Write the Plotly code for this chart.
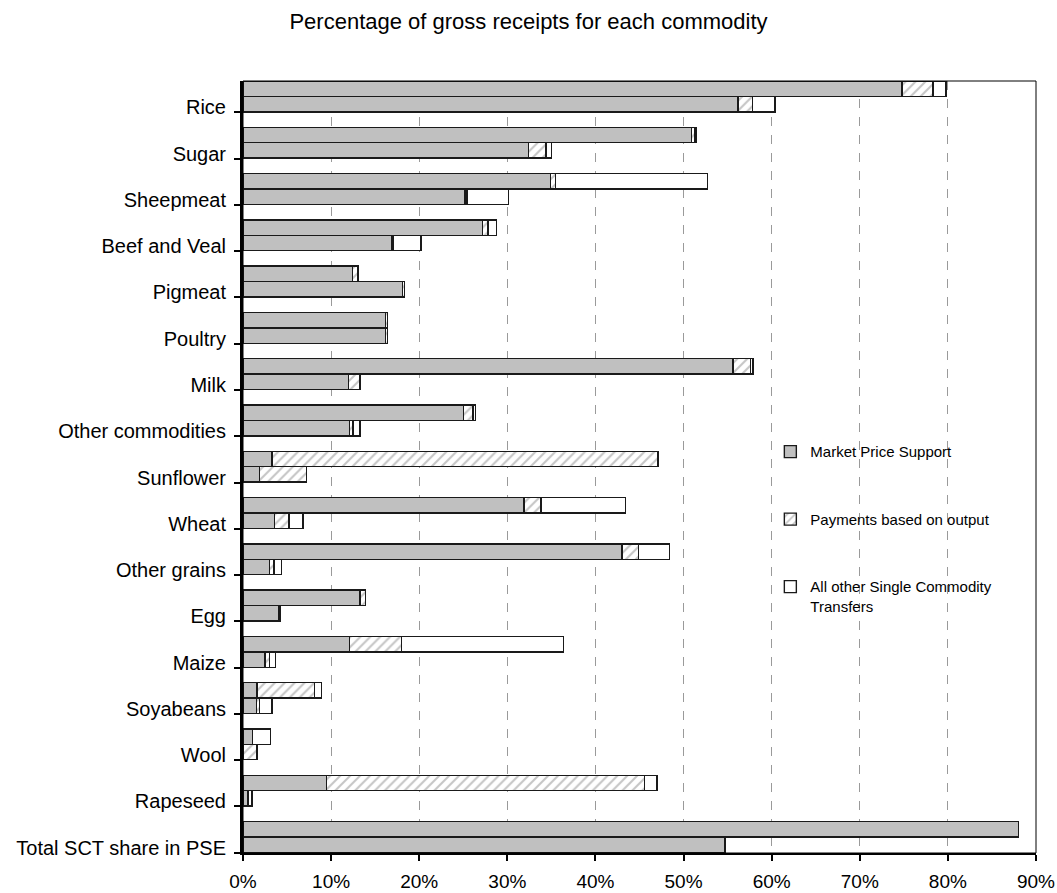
import plotly.graph_objects as go

# Commodities, top to bottom
commodities = [
    "Rice", "Sugar", "Sheepmeat", "Beef and Veal", "Pigmeat", "Poultry", "Milk",
    "Other commodities", "Sunflower", "Wheat", "Other grains", "Egg", "Maize",
    "Soyabeans", "Wool", "Rapeseed", "Total SCT share in PSE",
]

# Earlier period (upper bar of each pair), % of gross receipts
mps_early = [74.8, 50.9, 34.9, 27.2, 12.4, 16.2, 55.6, 25.0, 3.3, 31.9, 43.0, 13.3, 12.1, 1.6, 1.1, 9.5, 88.0]
pbo_early = [3.5, 0.4, 0.6, 0.6, 0.6, 0.2, 2.0, 1.1, 43.8, 1.9, 1.9, 0.6, 5.9, 6.5, 0.0, 36.1, 0.0]
other_early = [1.5, 0.1, 17.2, 1.0, 0.1, 0.0, 0.3, 0.3, 0.0, 9.6, 3.5, 0.0, 18.4, 0.8, 2.0, 1.4, 0.0]

# Recent period (lower bar of each pair)
mps_recent = [56.2, 32.4, 25.2, 16.9, 18.1, 16.2, 12.0, 12.1, 1.9, 3.6, 3.0, 4.0, 2.5, 1.5, 0.0, 0.5, 54.7]
pbo_recent = [1.6, 2.0, 0.2, 0.2, 0.2, 0.2, 1.2, 0.4, 5.3, 1.6, 0.5, 0.2, 0.5, 0.4, 1.6, 0.1, 0.0]
other_recent = [2.6, 0.6, 4.7, 3.1, 0.0, 0.0, 0.1, 0.8, 0.0, 1.6, 0.9, 0.0, 0.7, 1.4, 0.0, 0.4, 0.0]

x_ticks = list(range(0, 91, 10))

FONT = "Arial, 'Liberation Sans', sans-serif"
BAR_W = 0.333
n = len(commodities)
# each commodity occupies one unit; the pair of bars sits side by side
y_pos = [i - BAR_W / 2 for i in range(n)] + [i + BAR_W / 2 for i in range(n)]


def clean(vals):
    return [v if v else None for v in vals]


outline = dict(color="#1a1a1a", width=1.4)

fig = go.Figure()
fig.add_trace(go.Bar(
    name="Market Price Support", orientation="h", y=y_pos,
    x=clean(mps_early + mps_recent), width=BAR_W, legendgroup="a",
    marker=dict(color="#c0c0c0", line=outline),
))
fig.add_trace(go.Bar(
    name="Payments based on output", orientation="h", y=y_pos,
    x=clean(pbo_early + pbo_recent), width=BAR_W, legendgroup="b",
    marker=dict(color="white", line=outline,
                pattern=dict(shape="/", fgcolor="#8c8c8c", bgcolor="white",
                             size=7, solidity=0.3)),
))
fig.add_trace(go.Bar(
    name="All other Single Commodity<br>Transfers", orientation="h", y=y_pos,
    x=clean(other_early + other_recent), width=BAR_W, legendgroup="c",
    marker=dict(color="white", line=outline),
))

fig.update_layout(
    width=1057, height=893,
    barmode="stack",
    plot_bgcolor="white", paper_bgcolor="white",
    font=dict(family=FONT, size=19, color="black"),
    margin=dict(l=243, r=21, t=81, b=40),
    title=dict(text="Percentage of gross receipts for each commodity",
               x=0.5, xref="container", xanchor="center",
               y=1 - 21 / 893, yref="container", yanchor="middle",
               font=dict(size=22)),
    showlegend=True,
    legend=dict(x=0.665, xanchor="left", y=0.541, yanchor="top",
                bgcolor="rgba(0,0,0,0)", font=dict(size=15),
                tracegroupgap=45, valign="top", traceorder="grouped"),
    xaxis=dict(range=[0, 90], tickvals=x_ticks,
               ticktext=[f"{v}%" for v in x_ticks],
               showgrid=True, gridcolor="#9a9a9a", griddash="dash", gridwidth=1,
               zeroline=False, showline=True, linecolor="black", linewidth=2,
               ticks="outside", ticklen=6, tickcolor="black", tickwidth=1.5,
               ticklabelstandoff=4, automargin=False),
    yaxis=dict(range=[n - 1 + BAR_W + 0.015, -BAR_W - 0.002],
               tickvals=[i + BAR_W + 0.01 for i in range(n)],
               ticktext=commodities, tickfont=dict(size=20),
               showgrid=False, zeroline=False,
               showline=True, linecolor="black", linewidth=3,
               ticks="outside", ticklen=6, tickcolor="black", tickwidth=1.5,
               ticklabelstandoff=4, ticklabelshift=5, automargin=False),
    shapes=[dict(type="rect", xref="paper", yref="paper", x0=0, x1=1, y0=0, y1=1,
                 line=dict(color="black", width=1), layer="above")],
)

fig.write_html("out.html")
